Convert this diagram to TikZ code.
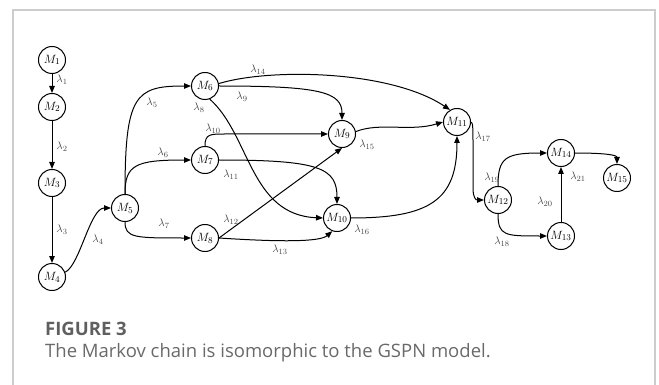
\documentclass[tikz,border=0pt]{standalone}
\usepackage{fontspec}
\setsansfont{Open Sans}
\usetikzlibrary{arrows.meta}
\definecolor{framegray}{RGB}{205,205,205}
\definecolor{capgray}{RGB}{105,105,105}
\definecolor{headgray}{RGB}{95,95,95}
\definecolor{lblgray}{RGB}{70,70,70}
\begin{document}
\begin{tikzpicture}[x=1pt,y=-1pt,
  state/.style={circle, draw, line width=1pt, minimum size=27pt, inner sep=0pt,
                font=\fontsize{12.5}{12.5}\selectfont},
  edge/.style={line width=1pt, -{Triangle[length=7pt,width=5.5pt]}},
  rate/.style={font=\fontsize{11}{11}\selectfont, text=lblgray, inner sep=0pt},
  caption/.style={anchor=base west, inner sep=0pt, font=\sffamily\fontsize{18.5}{20}\selectfont},
]
\useasboundingbox (0,0) rectangle (659,385);

% panel frame, open at the bottom
\draw[framegray, line width=1.3pt] (13,385) -- (13,10) -- (655,10) -- (655,385);

% states
\node[state] (M1)  at (52,60)   {$M_{1}$};
\node[state] (M2)  at (52,107)  {$M_{2}$};
\node[state] (M3)  at (52,183)  {$M_{3}$};
\node[state] (M4)  at (52,277)  {$M_{4}$};
\node[state] (M5)  at (125,208) {$M_{5}$};
\node[state] (M6)  at (205,86)  {$M_{6}$};
\node[state] (M7)  at (205,160) {$M_{7}$};
\node[state] (M8)  at (205,238) {$M_{8}$};
\node[state] (M9)  at (342,134) {$M_{9}$};
\node[state] (M10) at (337,218) {$M_{10}$};
\node[state] (M11) at (457,122) {$M_{11}$};
\node[state] (M12) at (498,200) {$M_{12}$};
\node[state] (M13) at (561,236) {$M_{13}$};
\node[state] (M14) at (561,153) {$M_{14}$};
\node[state] (M15) at (617,178) {$M_{15}$};

% transitions
\draw[edge] (M1) -- (M2);
\draw[edge] (M2) -- (M3);
\draw[edge] (M3) -- (M4);
\draw[edge] (M4.20) .. controls (80,265) and (90,208) .. (M5.west);
\draw[edge] (M5.north) .. controls (125,95) and (135,86) .. (M6.west);
\draw[edge] (M5.north) .. controls (125,165) and (135,160) .. (M7.west);
\draw[edge] (M5.south) .. controls (125,238) and (135,238) .. (M8.west);
\draw[edge] (M6.east) .. controls (320,86) and (342,92) .. (M9.north);
\draw[edge] (M6.10) .. controls (270,68) and (390,70) .. (M11.120);
\draw[edge] (M6.-70) .. controls (250,135) and (250,215) .. (M10.west);
\draw[edge] (M7.north) .. controls (205,134) and (210,134) .. (225,134) -- (M9.west);
\draw[edge] (M7.east) .. controls (320,160) and (337,168) .. (M10.north);
\draw[edge] (M8.east) -- (M9.south);
\draw[edge] (M8.east) .. controls (280,242) and (320,242) .. (M10.-110);
\draw[edge] (M9.10) .. controls (380,122) and (410,132) .. (M11.west);
\draw[edge] (M10.east) .. controls (430,218) and (457,200) .. (M11.south);
\draw[edge] (M11.east) .. controls (473,122) and (473,130) .. (473,145) -- (473,188)
            .. controls (473,198) and (476,200) .. (M12.west);
\draw[edge] (M12.north) .. controls (498,158) and (505,153) .. (M14.west);
\draw[edge] (M12.south) .. controls (498,236) and (505,236) .. (M13.west);
\draw[edge] (M13) -- (M14);
\draw[edge] (M14.east) .. controls (605,153) and (617,155) .. (M15.north);

% rates
\node[rate] (l1)  at (62,80)   {$\lambda_{1}$};
\node[rate] (l2)  at (62,147)  {$\lambda_{2}$};
\node[rate] (l3)  at (62,230)  {$\lambda_{3}$};
\node[rate] (l4)  at (98,240)  {$\lambda_{4}$};
\node[rate] (l5)  at (152,103) {$\lambda_{5}$};
\node[rate] (l6)  at (163,153) {$\lambda_{6}$};
\node[rate] (l7)  at (164,224) {$\lambda_{7}$};
\node[rate] (l8)  at (199,108) {$\lambda_{8}$};
\node[rate] (l9)  at (242,97)  {$\lambda_{9}$};
\node[rate] (l10) at (213,129) {$\lambda_{10}$};
\node[rate] (l11) at (231,175) {$\lambda_{11}$};
\node[rate] (l12) at (231,220) {$\lambda_{12}$};
\node[rate] (l13) at (280,250) {$\lambda_{13}$};
\node[rate] (l14) at (258,70)  {$\lambda_{14}$};
\node[rate] (l15) at (367,145) {$\lambda_{15}$};
\node[rate] (l16) at (362,230) {$\lambda_{16}$};
\node[rate] (l17) at (483,137) {$\lambda_{17}$};
\node[rate] (l18) at (502,242) {$\lambda_{18}$};
\node[rate] (l19) at (492,178) {$\lambda_{19}$};
\node[rate] (l20) at (545,202) {$\lambda_{20}$};
\node[rate] (l21) at (578,177) {$\lambda_{21}$};

% caption
\node[caption, text=headgray, font=\sffamily\bfseries\fontsize{18.5}{20}\selectfont] (head) at (45,335) {FIGURE 3};
\node[caption, text=capgray] (cap) at (45,357) {The Markov chain is isomorphic to the GSPN model.};
\end{tikzpicture}
\end{document}
